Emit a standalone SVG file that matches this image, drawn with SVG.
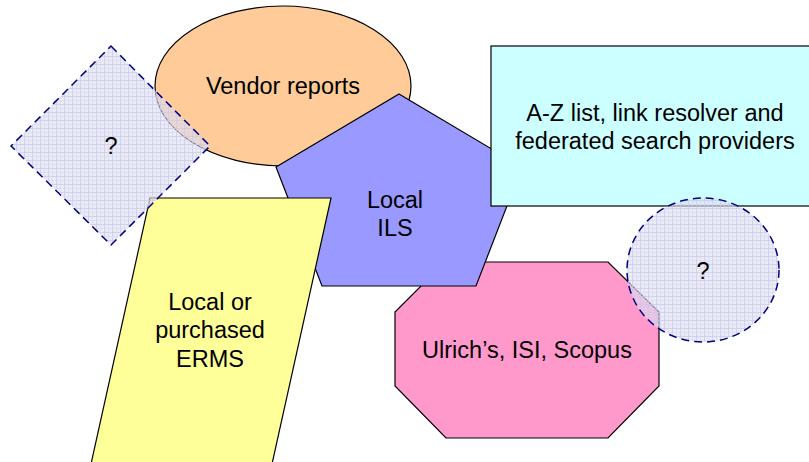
<svg xmlns="http://www.w3.org/2000/svg" width="809" height="462" viewBox="0 0 809 462">
<style>
.shape{stroke:#000;stroke-width:1.2}
.unk{fill:url(#grid);stroke:#000080;stroke-width:1.5;stroke-dasharray:8 5}
.lbl{font-family:"Liberation Sans",Arial,sans-serif;font-size:23.5px;fill:#000;text-anchor:middle}
</style>
<defs>
<pattern id="grid" width="8" height="8" patternUnits="userSpaceOnUse">
<rect width="8" height="8" fill="rgb(222,222,242)" fill-opacity="0.6"/>
<path d="M0 0.5H8M0.5 0V8" stroke="rgb(200,200,236)" stroke-opacity="0.7" stroke-width="1"/>
<path d="M0 4.5H8M4.5 0V8" stroke="rgb(214,214,240)" stroke-opacity="0.5" stroke-width="1"/>
</pattern>
</defs>
<rect width="809" height="462" fill="#fff"/>
<g id="connectors"></g>
<g id="vendor">
<ellipse class="shape" cx="283" cy="86" rx="128" ry="80" fill="#ffcc99"/>
<text class="lbl" x="283" y="94">Vendor reports</text>
</g>
<g id="ulrichs">
<polygon class="shape" points="445,262 608,262 659,312 659,386 608,438 446,438 395,386 395,312" fill="#ff99cc"/>
<text class="lbl" x="527" y="358">Ulrich’s, ISI, Scopus</text>
</g>
<g id="ils">
<polygon class="shape" points="399,94 522,167 476,286 322,286 276,167" fill="#9999ff"/>
<text class="lbl" x="395" y="208">Local</text>
<text class="lbl" x="395" y="236">ILS</text>
</g>
<g id="azlist">
<rect class="shape" x="491" y="46" width="330" height="160" fill="#ccffff"/>
<text class="lbl" x="655" y="121">A-Z list, link resolver and</text>
<text class="lbl" x="655" y="149">federated search providers</text>
</g>
<g id="erms">
<polygon class="shape" points="150,198 331,198 272,464 91,464" fill="#ffff99"/>
<text class="lbl" x="210" y="310">Local or</text>
<text class="lbl" x="210" y="338">purchased</text>
<text class="lbl" x="210" y="367">ERMS</text>
</g>
<g id="unknown1">
<polygon class="unk" points="111,46 210,146 111,245 11,146"/>
<text class="lbl" x="111" y="154">?</text>
</g>
<g id="unknown2">
<ellipse class="unk" cx="703" cy="270" rx="76" ry="72"/>
<text class="lbl" x="703" y="279">?</text>
</g>
</svg>
